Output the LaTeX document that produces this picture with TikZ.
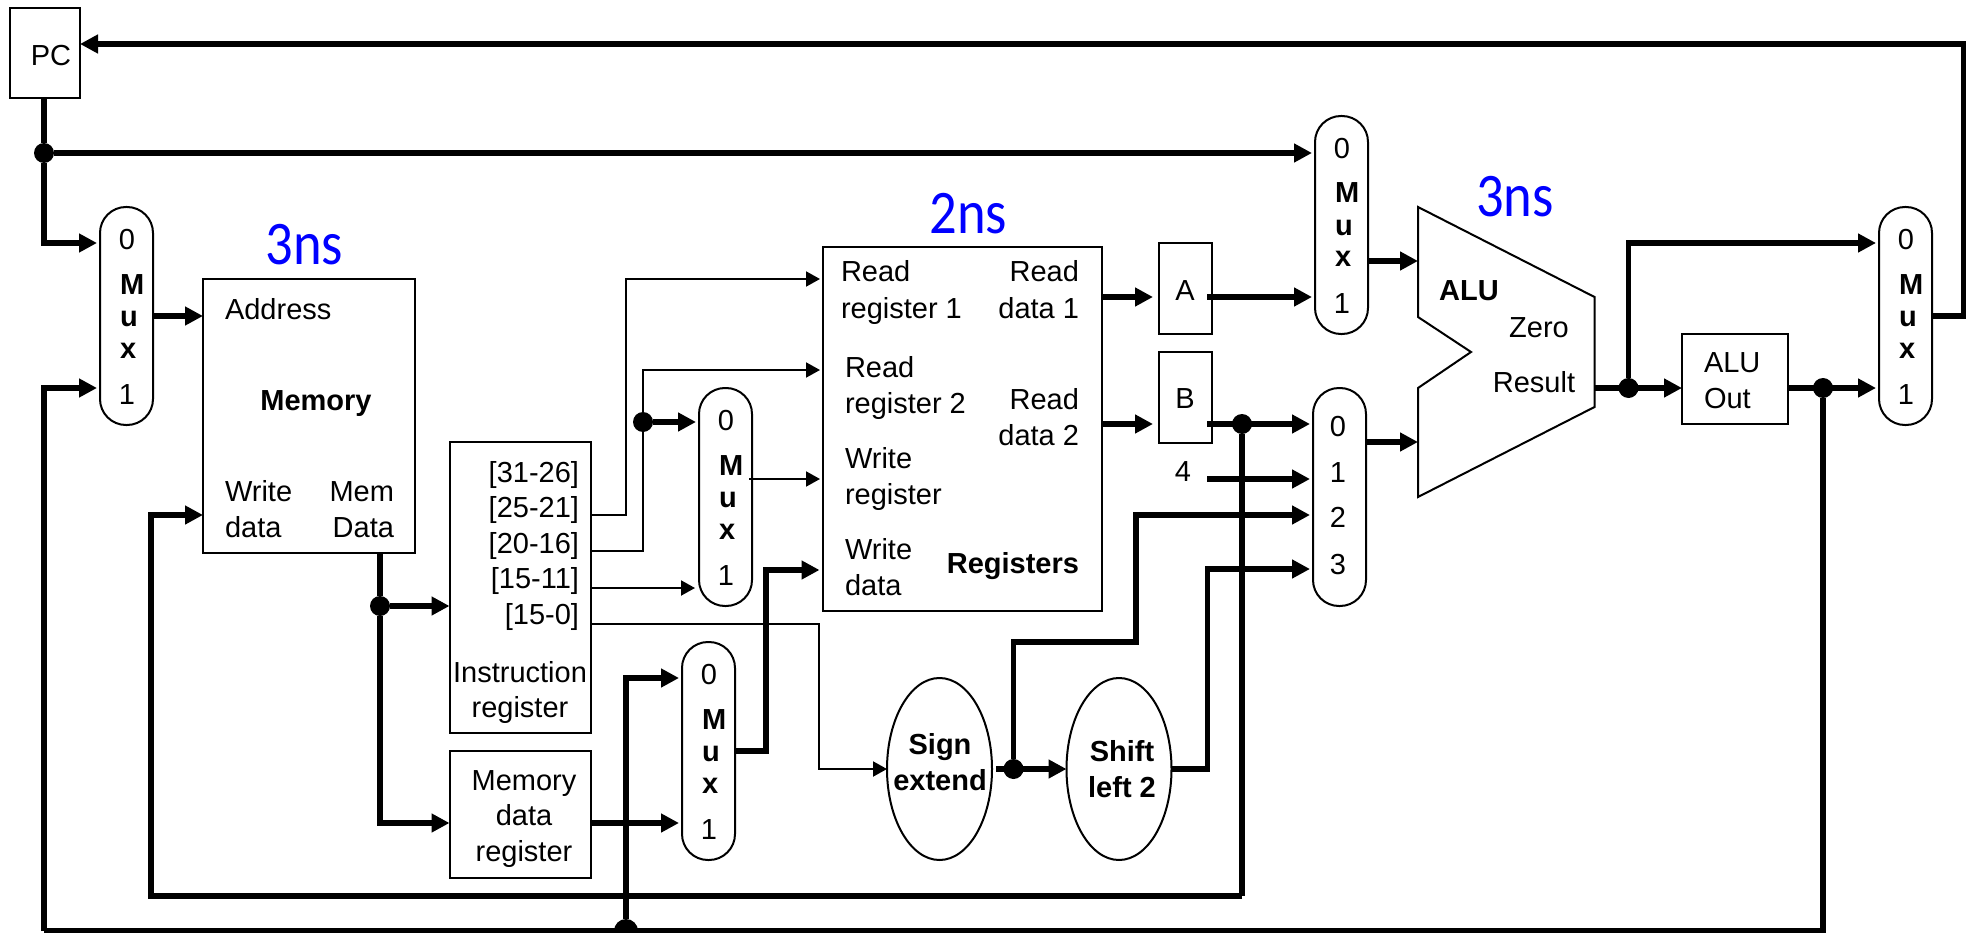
\documentclass[tikz,border=0pt]{standalone}
\usepackage{fontspec}
\setmainfont{Liberation Sans}
\newfontfamily\bluefont[FakeStretch=0.88]{Carlito}
\usetikzlibrary{arrows.meta,shapes.geometric}
\tikzset{
  x=1pt,y=-1pt,
  boxed/.style={draw=black,line width=2pt,rectangle,inner sep=0pt,outer sep=0pt},
  muxbox/.style={boxed,minimum width=53pt,minimum height=218pt,rounded corners=26pt},
  ellbox/.style={draw=black,line width=2pt,ellipse,inner sep=0pt,outer sep=0pt,minimum width=105pt,minimum height=182pt},
  lbl/.style={inner sep=0pt,outer sep=0pt,font=\fontsize{29}{36}\selectfont},
  lblb/.style={lbl,font=\fontsize{29}{36}\bfseries\selectfont},
  muxtxt/.style={inner sep=0pt,outer sep=0pt,align=left,anchor=base west,font=\fontsize{29}{32}\bfseries\selectfont},
  ns/.style={inner sep=0pt,outer sep=0pt,text=blue,font=\fontsize{62}{70}\bluefont\selectfont},
  wire/.style={line width=5.5pt,line cap=butt,line join=miter},
  wirea/.style={wire,-{Triangle[length=18pt,width=18pt]}},
  thin wire/.style={line width=2pt,line join=miter},
  thina/.style={thin wire,-{Triangle[length=14pt,width=15pt]}},
  tomux/.style={shorten >=3pt},
  dot/.style={circle,fill=black,inner sep=0pt,outer sep=0pt,minimum size=20pt},
}
\newcommand{\mymux}[3]{%
  \node[muxbox] (#1) at (#2+26.5,#3+109) {};
  \node[lbl,anchor=base] (#1zero) at (#2+27,#3+42.5) {0};
  \node[muxtxt] (#1name) at (#2+20,#3+151) {M\\u\\x};
  \node[lbl,anchor=base] (#1one) at (#2+27,#3+197.5) {1};
}
\begin{document}
\begin{tikzpicture}
\useasboundingbox (0,0) rectangle (1972,933);
% boxes
\node[boxed,minimum width=70pt,minimum height=90pt] (pc) at (45,53) {};
\node[lbl,anchor=base] (pctext) at (51,66) {PC};
\mymux{muxa}{100}{207}
\node[boxed,minimum width=212pt,minimum height=273pt] (mem) at (309,416) {};
\node[ns] (nsa) at (304.5,244.5) {3ns};
\node[lbl,anchor=base west] (addr) at (225,319) {Address};
\node[lblb,anchor=base] (memname) at (316,410) {Memory};
\node[lbl,anchor=base west,align=left] (wdata) at (225,537) {Write\\data};
\node[lbl,anchor=base east,align=right] (mdata) at (394,537) {Mem\\Data};
\node[boxed,minimum width=141.5pt,minimum height=291pt] (ir) at (520.25,587.5) {};
\node[lbl,anchor=base east,align=right,font=\fontsize{29}{35.5}\selectfont] (irbits) at (579,624) {[31-26]\\[0pt][25-21]\\[0pt][20-16]\\[0pt][15-11]\\[0pt][15-0]};
\node[lbl,anchor=base,align=center,font=\fontsize{29}{35}\selectfont] (irname) at (520,717) {Instruction\\register};
\node[boxed,minimum width=141.5pt,minimum height=127pt] (mdr) at (520.25,814.5) {};
\node[lbl,anchor=base,align=center,font=\fontsize{29}{35.5}\selectfont] (mdrname) at (524,861) {Memory\\data\\register};
\mymux{muxb}{699}{388}
\mymux{muxc}{682}{642}
\node[boxed,minimum width=279pt,minimum height=363pt] (regs) at (962.5,429) {};
\node[ns] (nsb) at (968.5,214) {2ns};
\node[lbl,anchor=base west,align=left] (rr1) at (841,318) {Read\\register 1};
\node[lbl,anchor=base west,align=left] (rr2) at (845,413) {Read\\register 2};
\node[lbl,anchor=base west,align=left] (wr) at (845,504) {Write\\register};
\node[lbl,anchor=base west,align=left] (wd) at (845,595) {Write\\data};
\node[lbl,anchor=base east,align=right] (rd1) at (1079,318) {Read\\data 1};
\node[lbl,anchor=base east,align=right] (rd2) at (1079,445) {Read\\data 2};
\node[lblb,anchor=base east] (regname) at (1079,573) {Registers};
\node[boxed,minimum width=53pt,minimum height=91pt] (rega) at (1185.5,288.5) {};
\node[lbl,anchor=base] (atext) at (1185,301) {A};
\node[boxed,minimum width=53pt,minimum height=91pt] (regb) at (1185.5,397.5) {};
\node[lbl,anchor=base] (btext) at (1185,408) {B};
\node[lbl,anchor=base] (four) at (1183,481) {4};
\node[muxbox] (muxd) at (1339.5,497) {};
\node[lbl,anchor=base] (dzero) at (1338,436) {0};
\node[lbl,anchor=base] (done) at (1338,482) {1};
\node[lbl,anchor=base] (dtwo) at (1338,527) {2};
\node[lbl,anchor=base] (dthree) at (1338,574) {3};
\mymux{muxe}{1315}{116}
\node[ellbox] (sign) at (939.5,769) {};
\node[lblb,anchor=base,align=center] (signtext) at (940,790) {Sign\\extend};
\node[ellbox] (shift) at (1119,769) {};
\node[lblb,anchor=base,align=center] (shifttext) at (1122,797) {Shift\\left 2};
% ALU
\draw[line width=2pt,line join=miter] (1418,207) -- (1594.5,297) -- (1594.5,407) -- (1418,497) -- (1418,388) -- (1471,352) -- (1418,317) -- cycle;
\coordinate (alua) at (1418,261);
\coordinate (alub) at (1418,442);
\coordinate (aluo) at (1594.5,388);
\node[lblb,anchor=base] (aluname) at (1469,301) {ALU};
\node[lbl,anchor=base] (zero) at (1539,337) {Zero};
\node[lbl,anchor=base] (result) at (1534,392) {Result};
\node[ns] (nsc) at (1515,196.5) {3ns};
\node[boxed,minimum width=106pt,minimum height=90pt] (aluout) at (1735,379) {};
\node[lbl,anchor=base west,align=left] (aotext) at (1704,408) {ALU\\Out};
\mymux{muxf}{1879}{207}
% junctions
\node[dot] (jpc) at (44,153) {};
\node[dot] (jmem) at (380,606) {};
\node[dot] (jir) at (643,422) {};
\node[dot] (jb) at (1242,424) {};
\node[dot] (jse) at (1013.5,769) {};
\node[dot] (jalu) at (1628.5,388) {};
\node[dot] (jao) at (1823,388) {};
\node[dot,minimum size=24pt] (jbot) at (626,931) {};
% corner points
\coordinate (c1) at (1963.5,316);
\coordinate (c2) at (1963.5,44);
\coordinate (c3) at (151,896);
\coordinate (c4) at (1242,896);
\coordinate (c5) at (44,931);
\coordinate (c6) at (1823,931);
% thick wires
\draw[wirea] (muxf.east |- c1) -- (c1) -- (c2) -- (pc.east |- c2);
\draw[wire] (pc.south -| jpc) -- (jpc);
\draw[wirea,tomux] (jpc) -- (44,243) -- (muxa.west |- 0,243);
\draw[wirea,tomux] (jpc) -- (muxe.west |- jpc);
\draw[wirea] (muxa.east |- 0,316) -- (mem.west |- 0,316);
\draw[wirea,tomux] (c5) -- (44,388) -- (muxa.west |- 0,388);
\draw[wirea] (c4) -- (c3) -- (151,515) -- (mem.west |- 0,515);
\draw[wire] (jb) -- (c4);
\draw[wire] (c5) -- (c6) -- (jao);
\draw[wire] (mem.south -| jmem) -- (jmem);
\draw[wirea] (jmem) -- (ir.west |- jmem);
\draw[wirea] (jmem) -- (380,823) -- (mdr.west |- 0,823);
\draw[wirea,tomux] (mdr.east |- 0,823) -- (muxc.west |- 0,823);
\draw[wirea,tomux] (jbot) -- (626,678) -- (muxc.west |- 0,678);
\draw[wirea] (muxc.east |- 0,751) -- (766,751) -- (766,570) -- (819.5,570);
\draw[wirea,tomux] (jir) -- (muxb.west |- jir);
\draw[wirea] (regs.east |- 0,297) -- (1153,297);
\draw[wirea] (regs.east |- 0,424) -- (1153,424);
\draw[wirea,tomux] (1207,297) -- (muxe.west |- 0,297);
\draw[wirea,tomux] (1207,424) -- (muxd.west |- 0,424);
\draw[wirea,tomux] (1207,479) -- (muxd.west |- 0,479);
\draw[wirea,tomux] (jse) -- (1013.5,642) -- (1136,642) -- (1136,515) -- (muxd.west |- 0,515);
\draw[wirea,tomux] (shift.east) -- (1207.5,769) -- (1207.5,569) -- (muxd.west |- 0,569);
\draw[wirea] (996,769) -- (shift.west);
\draw[wirea] (muxe.east |- alua) -- (alua);
\draw[wirea] (muxd.east |- alub) -- (alub);
\draw[wirea] (aluo) -- (aluout.west |- aluo);
\draw[wirea,tomux] (jalu) -- (1628.5,243) -- (muxf.west |- 0,243);
\draw[wirea,tomux] (aluout.east |- jao) -- (muxf.west |- jao);
% thin wires
\draw[thina] (ir.east |- 0,515) -- (626,515) -- (626,279) -- (820,279);
\draw[thina] (ir.east |- 0,551) -- (643,551) -- (643,370) -- (820,370);
\draw[thina] (ir.east |- 0,588) -- (695,588);
\draw[thina] (ir.east |- 0,624) -- (819,624) -- (819,769) -- (sign.west);
\draw[thina] (749,479) -- (820,479);
\end{tikzpicture}
\end{document}
